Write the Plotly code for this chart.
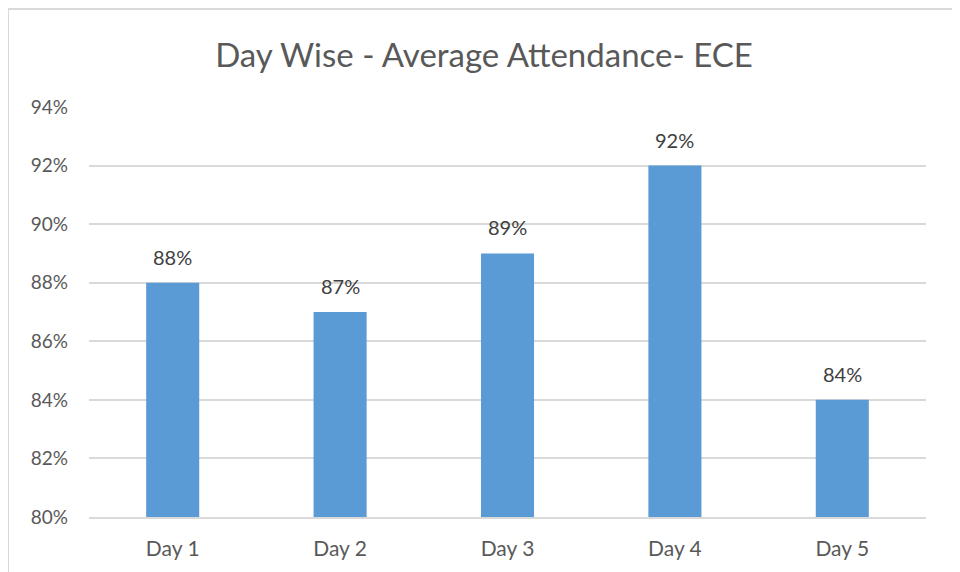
import plotly.graph_objects as go

days = ["Day 1", "Day 2", "Day 3", "Day 4", "Day 5"]
attendance = [0.88, 0.87, 0.89, 0.92, 0.84]
title_text = "Day Wise - Average Attendance- ECE"

BAR = "#5B9BD5"
TXT = "#595959"
GRID = "#D9D9D9"
FONT = "Lato, Carlito, Calibri, sans-serif"

# page body has an 8px margin; compensate
OFF = 8
W, H = 960 - OFF, 572 - OFF
L, R, T, B = 89 - OFF, 926 - OFF, 107 - OFF, 517 - OFF

fig = go.Figure()
fig.add_trace(go.Bar(
    x=days, y=attendance, marker_color=BAR, marker_line_width=0,
    width=0.317, hoverinfo="skip",
))

for d, v in zip(days, attendance):
    fig.add_annotation(x=d, y=v, text=f"{round(v*100)}%", showarrow=False,
                       yanchor="bottom", yshift=12,
                       font=dict(family=FONT, size=20, color="#404040"))

pw, ph = R - L, B - T
def px(x):
    return (x - OFF - L) / pw
def py(y):
    return (B - (y - OFF)) / ph

fig.add_shape(type="rect", xref="paper", yref="paper",
              x0=px(8), x1=px(954), y0=py(600), y1=py(9),
              line=dict(color="#D9D9D9", width=2), fillcolor="rgba(0,0,0,0)",
              layer="below")

fig.update_layout(
    width=W, height=H,
    margin=dict(l=L, r=W - R, t=T, b=H - B, autoexpand=False),
    paper_bgcolor="white", plot_bgcolor="white",
    showlegend=False,
    title=dict(text=title_text, x=0.5, xref="container", xanchor="center",
               y=1 - (55 - OFF) / H, yref="container", yanchor="middle",
               font=dict(family=FONT, size=33, color=TXT)),
    font=dict(family=FONT, color=TXT),
    xaxis=dict(showgrid=False, showline=True, linecolor=GRID, linewidth=2,
               ticks="", tickfont=dict(size=21, color=TXT), ticklabelstandoff=12,
               automargin=False, fixedrange=True),
    yaxis=dict(range=[0.80, 0.94], dtick=0.02, tick0=0.80, tickformat=".0%",
               showgrid=True, gridcolor=GRID, gridwidth=2, zeroline=False,
               showline=False, ticks="", tickfont=dict(size=19, color=TXT),
               ticklabelstandoff=20, automargin=False, fixedrange=True),
)

fig.write_html("out.html")
